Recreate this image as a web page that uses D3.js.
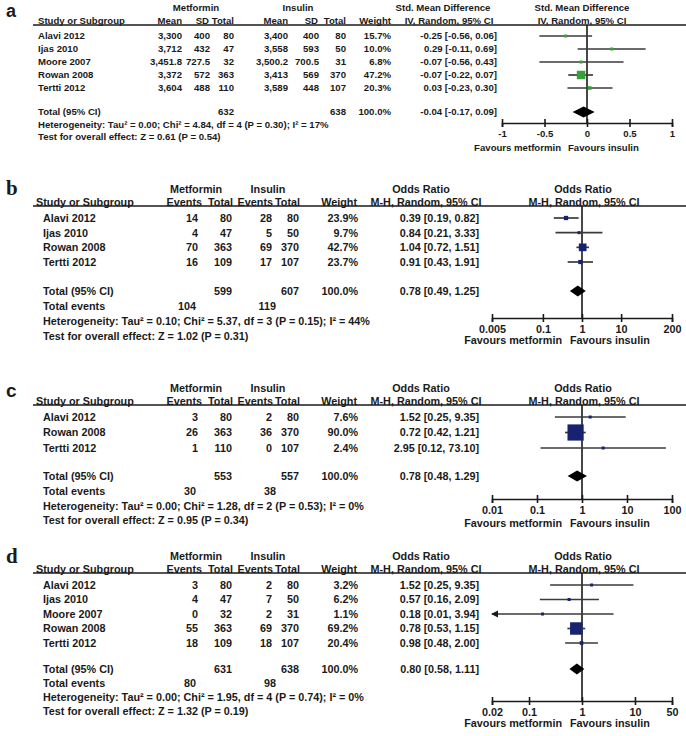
<!DOCTYPE html>
<html><head><meta charset="utf-8">
<script src="https://cdn.jsdelivr.net/npm/d3@7"></script>
<style>
body{margin:0;background:#fff}
text{font-family:"Liberation Sans",Arial,sans-serif;font-weight:bold;fill:#1a1a1a}
</style>
</head><body><svg id="chart" width="686" height="736"></svg>
<script>
// ---------------- DATA ----------------
// Panel a : standardised mean difference
const aStudies   = ["Alavi 2012","Ijas 2010","Moore 2007","Rowan 2008","Tertti 2012"];
const aMetMean   = ["3,300","3,712","3,451.8","3,372","3,604"];
const aMetSD     = ["400","432","727.5","572","488"];
const aMetTotal  = [80,47,32,363,110];
const aInsMean   = ["3,400","3,558","3,500.2","3,413","3,589"];
const aInsSD     = ["400","593","700.5","569","448"];
const aInsTotal  = [80,50,31,370,107];
const aWeight    = [15.7,10.0,6.8,47.2,20.3];
const aEst       = [-0.25,0.29,-0.07,-0.07,0.03];
const aLo        = [-0.56,-0.11,-0.56,-0.22,-0.23];
const aHi        = [0.06,0.69,0.43,0.07,0.30];
const aPooled    = [-0.04,-0.17,0.09];
const aTotals    = [632,638];
const aHet       = "Heterogeneity: Tau² = 0.00; Chi² = 4.84, df = 4 (P = 0.30); I² = 17%";
const aTest      = "Test for overall effect: Z = 0.61 (P = 0.54)";
const aTicks     = [-1,-0.5,0,0.5,1];
const aTickLabels= ["-1","-0.5","0","0.5","1"];

// Panel b
const bStudies   = ["Alavi 2012","Ijas 2010","Rowan 2008","Tertti 2012"];
const bMetEvents = [14,4,70,16];
const bMetTotal  = [80,47,363,109];
const bInsEvents = [28,5,69,17];
const bInsTotal  = [80,50,370,107];
const bWeight    = [23.9,9.7,42.7,23.7];
const bEst       = [0.39,0.84,1.04,0.91];
const bLo        = [0.19,0.21,0.72,0.43];
const bHi        = [0.82,3.33,1.51,1.91];
const bPooled    = [0.78,0.49,1.25];
const bTotals    = [599,607];
const bEvents    = [104,119];
const bHet       = "Heterogeneity: Tau² = 0.10; Chi² = 5.37, df = 3 (P = 0.15); I² = 44%";
const bTest      = "Test for overall effect: Z = 1.02 (P = 0.31)";
const bTicks     = [0.005,0.1,1,10,200];
const bTickLabels= ["0.005","0.1","1","10","200"];

// Panel c
const cStudies   = ["Alavi 2012","Rowan 2008","Tertti 2012"];
const cMetEvents = [3,26,1];
const cMetTotal  = [80,363,110];
const cInsEvents = [2,36,0];
const cInsTotal  = [80,370,107];
const cWeight    = [7.6,90.0,2.4];
const cEst       = [1.52,0.72,2.95];
const cLo        = [0.25,0.42,0.12];
const cHi        = [9.35,1.21,73.10];
const cPooled    = [0.78,0.48,1.29];
const cTotals    = [553,557];
const cEvents    = [30,38];
const cHet       = "Heterogeneity: Tau² = 0.00; Chi² = 1.28, df = 2 (P = 0.53); I² = 0%";
const cTest      = "Test for overall effect: Z = 0.95 (P = 0.34)";
const cTicks     = [0.01,0.1,1,10,100];
const cTickLabels= ["0.01","0.1","1","10","100"];

// Panel d
const dStudies   = ["Alavi 2012","Ijas 2010","Moore 2007","Rowan 2008","Tertti 2012"];
const dMetEvents = [3,4,0,55,18];
const dMetTotal  = [80,47,32,363,109];
const dInsEvents = [2,7,2,69,18];
const dInsTotal  = [80,50,31,370,107];
const dWeight    = [3.2,6.2,1.1,69.2,20.4];
const dEst       = [1.52,0.57,0.18,0.78,0.98];
const dLo        = [0.25,0.16,0.01,0.53,0.48];
const dHi        = [9.35,2.09,3.94,1.15,2.00];
const dPooled    = [0.80,0.58,1.11];
const dTotals    = [631,638];
const dEvents    = [80,98];
const dHet       = "Heterogeneity: Tau² = 0.00; Chi² = 1.95, df = 4 (P = 0.74); I² = 0%";
const dTest      = "Test for overall effect: Z = 1.32 (P = 0.19)";
const dTicks     = [0.02,0.1,1,10,50];
const dTickLabels= ["0.02","0.1","1","10","50"];

// ---------------- DRAWING ----------------
const svg = d3.select("#chart");
const fmt2 = v => v.toFixed(2);
const ciText = (e,l,h) => `${fmt2(e)} [${fmt2(l)}, ${fmt2(h)}]`;
const pctFmt = w => w.toFixed(1)+"%";
const sizeScale = d3.scaleLinear().domain([0,100]).range([0,18]);

function txt(g, x, y, s, anchor, size){
  return g.append("text").attr("x",x).attr("y",y).attr("text-anchor",anchor||"start")
    .attr("font-size",size).text(s);
}

function drawPanel(p){
  const g = svg.append("g");
  const fs = p.fs, dy = fs*0.36;
  g.append("text").attr("x",p.letterX).attr("y",p.letterY)
    .attr("font-size",p.letterSize).style("font-family",p.letterFont).text(p.letter);
  p.groupHeads.forEach(h => txt(g,h[1],p.hdr+dy,h[0],"middle",fs));
  p.colHeads.forEach(h => txt(g,h[1],p.col+dy,h[0],h[2],fs));
  g.append("line").attr("x1",33).attr("x2",686).attr("y1",p.ul).attr("y2",p.ul)
    .attr("stroke","#1a1a1a").attr("stroke-width",1.6);

  const n = p.studies.length;
  const rowY = d3.scaleLinear().domain([0,n-1]).range([p.row0,p.rowN]);
  p.studies.forEach((s,i) => {
    const y = rowY(i)+dy;
    txt(g,p.studyX,y,s,"start",fs);
    p.cells.forEach(c => txt(g,c.x,y,c.vals[i],"end",fs));
  });
  txt(g,p.studyX,p.total+dy,"Total (95% CI)","start",fs);
  p.totalCells.forEach(c => txt(g,c[1],p.total+dy,c[0],"end",fs));
  const lines = [];
  if(p.events) lines.push(["Total events", p.events]);
  lines.push([p.het]); lines.push([p.test]);
  p.footY.forEach((y,i) => {
    const L = lines[i];
    txt(g,p.studyX,y+dy,L[0],"start",fs);
    if(L[1]){ txt(g,p.evX[0],y+dy,L[1][0],"end",fs); txt(g,p.evX[1],y+dy,L[1][1],"end",fs); }
  });

  // forest plot
  const x = p.scale;
  const [dmin,dmax] = x.domain();
  const x0 = x(p.nullVal);
  g.append("line").attr("x1",x0).attr("x2",x0).attr("y1",p.ul).attr("y2",p.axisY)
    .attr("stroke","#1a1a1a").attr("stroke-width",1.6);
  p.studies.forEach((s,i) => {
    const y = rowY(i);
    const lo = Math.max(p.lo[i], dmin), hi = Math.min(p.hi[i], dmax);
    g.append("line").attr("x1",x(lo)).attr("x2",x(hi)).attr("y1",y).attr("y2",y)
      .attr("stroke","#3a3a3a").attr("stroke-width",1.7);
    if(p.lo[i] < dmin){
      const ax = x(dmin);
      g.append("path").attr("d",`M${ax-1},${y} L${ax+6},${y-3.5} L${ax+6},${y+3.5} Z`).attr("fill","#1a1a1a");
    }
    const sz = Math.max(3, sizeScale(p.weight[i]));
    g.append("rect").attr("x",x(p.est[i])-sz/2).attr("y",y-sz/2).attr("width",sz).attr("height",sz)
      .attr("fill",p.color);
  });
  const [pe,pl,ph] = p.pooled;
  const yt = p.total;
  g.append("path").attr("d",`M${x(pl)},${yt} L${x(pe)},${yt-5.5} L${x(ph)},${yt} L${x(pe)},${yt+5.5} Z`)
    .attr("fill","#000");
  const axis = d3.axisBottom(x).tickValues(p.ticks).tickSize(4)
    .tickFormat((d,i) => p.tickLabels[i]);
  const ag = g.append("g").attr("transform",`translate(0,${p.axisY})`).call(axis);
  ag.select(".domain").attr("stroke","#1a1a1a").attr("stroke-width",1.6);
  ag.selectAll(".tick line").attr("y1",-4).attr("y2",4).attr("stroke","#1a1a1a").attr("stroke-width",1.6);
  ag.selectAll(".tick text").attr("y",7).attr("dy","0.71em").attr("font-size",fs)
    .style("font-family","'Liberation Sans',Arial,sans-serif").style("font-weight","bold").attr("fill","#1a1a1a");
  txt(g,x0-p.favGap[0],p.favY,"Favours metformin","end",fs);
  txt(g,x0-p.favGap[1],p.favY,"Favours insulin","start",fs);
}

// Panel a
drawPanel({
  letter:"a", letterX:6, letterY:17, letterSize:18, letterFont:"'Liberation Sans',Arial,sans-serif",
  fs:9.6, hdr:8, col:21, ul:25, row0:36, rowN:88, total:112, footY:[125,137],
  studyX:38,
  groupHeads:[["Metformin",196],["Insulin",298],["Std. Mean Difference",443],["Std. Mean Difference",582]],
  colHeads:[["Study or Subgroup",38,"start"],["Mean",182,"end"],["SD",209,"end"],["Total",234,"end"],
            ["Mean",288,"end"],["SD",318,"end"],["Total",346,"end"],["Weight",391,"end"],
            ["IV, Random, 95% CI",449,"middle"],["IV, Random, 95% CI",582,"middle"]],
  studies:aStudies,
  cells:[{x:182,vals:aMetMean},{x:210,vals:aMetSD},{x:234,vals:aMetTotal},
         {x:288,vals:aInsMean},{x:319,vals:aInsSD},{x:346,vals:aInsTotal},
         {x:391,vals:aWeight.map(pctFmt)},
         {x:497,vals:aEst.map((e,i)=>ciText(e,aLo[i],aHi[i]))}],
  totalCells:[[aTotals[0],234],[aTotals[1],346],["100.0%",391],[ciText(...aPooled),497]],
  het:aHet, test:aTest,
  scale:d3.scaleLinear().domain([-1,1]).range([502,672]), nullVal:0,
  lo:aLo, hi:aHi, est:aEst, weight:aWeight, pooled:aPooled, color:"#38a03a",
  ticks:aTicks, tickLabels:aTickLabels, axisY:123, favY:151, favGap:[26,19]
});

function orPanel(letter, lay, studies, mE, mT, iE, iT, w, est, lo, hi, pooled, totals, events, het, test, ticks, tl){
  drawPanel(Object.assign({
    letter:letter, fs:10.8, studyX:43,
    groupHeads:[["Metformin",196],["Insulin",268],["Odds Ratio",421],["Odds Ratio",583]],
    colHeads:[["Study or Subgroup",36,"start"],["Events",202,"end"],["Total",233,"end"],
              ["Events",273,"end"],["Total",300,"end"],["Weight",357,"end"],
              ["M-H, Random, 95% CI",426,"middle"],["M-H, Random, 95% CI",584,"middle"]],
    studies:studies,
    cells:[{x:198,vals:mE},{x:232,vals:mT},{x:272,vals:iE},{x:299,vals:iT},
           {x:358,vals:w.map(pctFmt)},{x:479,vals:est.map((e,i)=>ciText(e,lo[i],hi[i]))}],
    totalCells:[[totals[0],232],[totals[1],299],["100.0%",358],[ciText(...pooled),479]],
    events:events, evX:[196,276], het:het, test:test,
    scale:d3.scaleLog().domain([ticks[0],ticks[ticks.length-1]]).range([492,672]), nullVal:1,
    lo:lo, hi:hi, est:est, weight:w, pooled:pooled, color:"#17236e",
    ticks:ticks, tickLabels:tl, favGap:[20,12]
  }, lay));
}

orPanel("b",{letterX:6,letterY:195,letterSize:21,letterFont:"'Liberation Serif',serif",
  hdr:189,col:202,ul:206,row0:218,rowN:262,total:291,footY:[306,321,336],axisY:318,favY:344},
  bStudies,bMetEvents,bMetTotal,bInsEvents,bInsTotal,bWeight,bEst,bLo,bHi,bPooled,bTotals,bEvents,bHet,bTest,bTicks,bTickLabels);

orPanel("c",{letterX:6,letterY:397,letterSize:19,letterFont:"'Liberation Sans',Arial,sans-serif",
  hdr:388,col:401,ul:405,row0:417,rowN:448,total:476,footY:[491,506,520],axisY:499,favY:527},
  cStudies,cMetEvents,cMetTotal,cInsEvents,cInsTotal,cWeight,cEst,cLo,cHi,cPooled,cTotals,cEvents,cHet,cTest,cTicks,cTickLabels);

orPanel("d",{letterX:6,letterY:563,letterSize:21,letterFont:"'Liberation Serif',serif",
  hdr:556,col:569,ul:573,row0:585,rowN:643,total:669,footY:[683,697,711],axisY:701,favY:727},
  dStudies,dMetEvents,dMetTotal,dInsEvents,dInsTotal,dWeight,dEst,dLo,dHi,dPooled,dTotals,dEvents,dHet,dTest,dTicks,dTickLabels);
</script></body></html>
